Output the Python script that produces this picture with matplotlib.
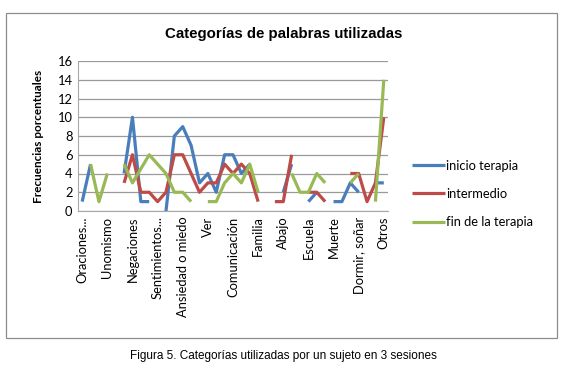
import matplotlib.pyplot as plt
import numpy as np
from matplotlib.patches import Rectangle

nan = np.nan

# 37 categories, only every third one is labelled on the axis
n_cat = 37
tick_labels = ["Oraciones...", "Unomismo", "Negaciones", "Sentimientos...",
               "Ansiedad o miedo", "Ver", "Comunicación", "Familia", "Abajo",
               "Escuela", "Muerte", "Dormir, soñar", "Otros"]

inicio = [1, 5, nan, nan, nan, 4, 10, 1, 1, nan, 0, 8, 9, 7, 3, 4, 2, 6, 6, 4, 5,
          nan, nan, nan, 2, 5, nan, 1, 2, nan, 1, 1, 3, 2, nan, 3, 3]
intermedio = [nan, nan, nan, nan, nan, 3, 6, 2, 2, 1, 2, 6, 6, 4, 2, 3, 3, 5, 4, 5, 4,
              1, nan, 1, 1, 6, nan, 2, 2, 1, nan, nan, 4, 4, 1, 3, 10]
fin = [nan, 5, 1, 4, nan, 5, 3, 4.5, 6, 5, 4, 2, 2, 1, nan, 1, 1, 3, 4, 3, 5,
       2, nan, nan, nan, 4, 2, 2, 4, 3, nan, nan, 3, 4, nan, 1, 14]

series = [("inicio terapia", inicio, "#4A7EBB"),
          ("intermedio", intermedio, "#BE4B48"),
          ("fin de la terapia", fin, "#98B954")]

plt.rcParams['font.family'] = ['Liberation Sans', 'DejaVu Sans']

fig = plt.figure(figsize=(5.67, 3.71), dpi=100)
ax = fig.add_axes([78/567, 1-211/371, 310/567, 150/371])

x = np.arange(n_cat)
for name, vals, col in series:
    ax.plot(x, vals, color=col, lw=2.3, label=name, solid_capstyle='butt')

ax.set_xlim(-0.5, n_cat - 0.5)
ax.set_ylim(0, 16)
ax.set_yticks(np.arange(0, 17, 2))
ax.set_xticks(np.arange(0, n_cat, 3))
ax.set_xticklabels(tick_labels, rotation=90, fontsize=9.3, family=['Lato', 'DejaVu Sans'])
for lab in ax.get_yticklabels():
    lab.set_fontsize(9.3)
    lab.set_family(['Lato', 'DejaVu Sans'])
ax.tick_params(axis='both', length=0, pad=4)
ax.yaxis.grid(True, color='#9a9a9a', lw=0.9)
ax.set_axisbelow(True)
for s in ax.spines.values():
    s.set_color('#a8a8a8')
    s.set_linewidth(0.8)
ax.spines['right'].set_visible(False)
ax.spines['top'].set_visible(False)

ax.set_ylabel("Frecuencias porcentuales", fontsize=8.5, weight='bold',
              family=['Lato', 'DejaVu Sans'], labelpad=10)

fig.text(0.5, 1-34/371, "Categorías de palabras utilizadas", ha='center', va='center',
         fontsize=10.8, weight='bold')

leg = fig.legend(loc='center left', bbox_to_anchor=(400/567, 1-194/371), frameon=False,
                 handlelength=2.6, handletextpad=0.1, labelspacing=1.25,
                 prop={'family': ['Lato', 'DejaVu Sans'], 'size': 9.3})

fig.patches.append(Rectangle((6/567, 1-338/371), 551/567, 325/371, transform=fig.transFigure,
                             fill=False, edgecolor='#8c8c8c', lw=0.9))

fig.text(0.5, 1-356/371, "Figura 5. Categorías utilizadas por un sujeto en 3 sesiones",
         ha='center', va='center', fontsize=8.5)

fig.savefig("out.png", dpi=100)
